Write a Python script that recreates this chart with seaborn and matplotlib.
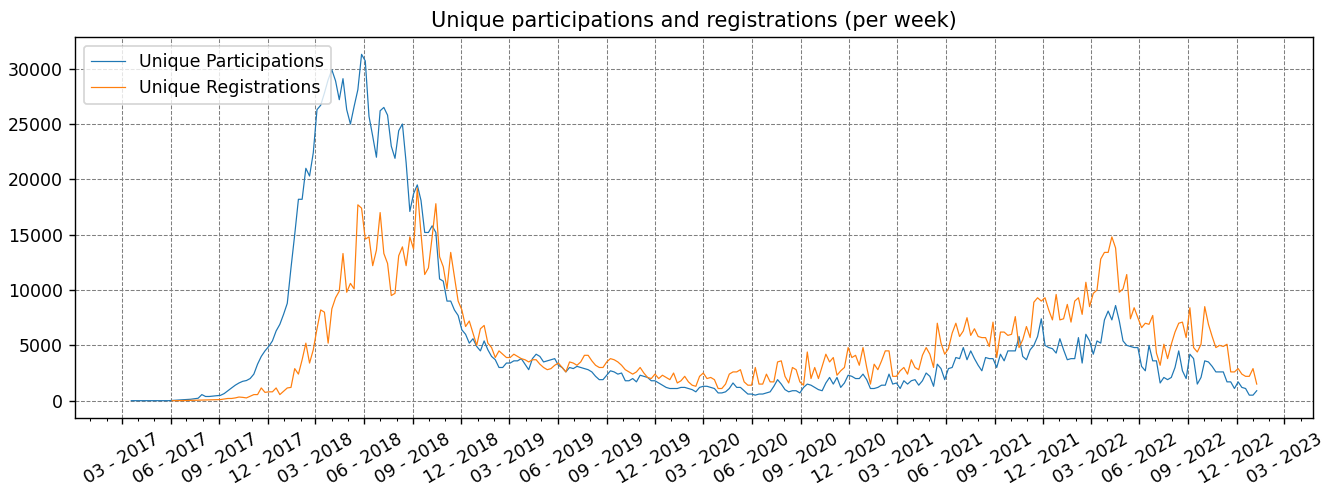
import numpy as np
import pandas as pd
import matplotlib
matplotlib.use('Agg')
import matplotlib.pyplot as plt
import matplotlib.dates as mdates
import seaborn as sns

nan = np.nan

# first week of the series, one value per week after that
start_date = '2017-03-19'

participations = [
    0, 0, 0, 0, 0, 0, 0, 0, 0, 0,
    0, 20, 50, 60, 80, 100, 130, 180, 220, 550,
    380, 380, 420, 450, 480, 640, 900, 1150, 1400, 1600,
    1750, 1820, 2000, 2400, 3300, 4000, 4500, 4900, 5400, 6300,
    6900, 7800, 8800, 12000, 15000, 18200, 18200, 21000, 20300, 22400,
    26300, 26700, 27800, 29000, 29900, 28900, 27200, 29100, 26300, 25000,
    26600, 28100, 31300, 30700, 25700, 23900, 22000, 26200, 26500, 25800,
    23000, 21900, 24400, 25000, 21500, 17100, 18700, 19500, 18100, 15200,
    15200, 15800, 15200, 11000, 10800, 9000, 9000, 8200, 7700, 6400,
    6000, 5200, 5600, 4900, 4500, 5400, 4600, 4000, 3700, 3000,
    3000, 3400, 3400, 3600, 3600, 3800, 3300, 2800, 3800, 4200,
    4000, 3500, 3600, 3700, 3800, 3200, 3000, 2600, 3000, 2900,
    3100, 3000, 2900, 2800, 2600, 2200, 1900, 1900, 2300, 2700,
    2600, 2400, 2500, 1800, 1800, 2000, 1700, 2300, 2200, 2100,
    1800, 1800, 1600, 1400, 1200, 1100, 1100, 1100, 1200, 1200,
    1100, 1000, 800, 1200, 1300, 1300, 1200, 1100, 700, 700,
    800, 1100, 1600, 1200, 1200, 900, 600, 600, 500, 600,
    600, 700, 800, 1300, 1900, 1500, 1000, 800, 900, 900,
    700, 1200, 1500, 1400, 1200, 1000, 900, 1600, 2100, 1500,
    2100, 1200, 1600, 2300, 2200, 2000, 2000, 2400, 1900, 1100,
    1100, 1200, 1400, 1400, 2400, 1500, 1600, 1100, 1800, 1500,
    1800, 1900, 1400, 1800, 2500, 2200, 1300, 3300, 2900, 1900,
    2900, 3000, 3900, 3800, 4800, 3700, 4500, 3800, 3200, 2700,
    3900, 3800, 3800, 3000, 4200, 3600, 4500, 4500, 4500, 5800,
    4000, 3700, 4600, 5000, 5800, 7400, 5000, 4800, 4700, 4300,
    5600, 4600, 3700, 3800, 3800, 5700, 3400, 6000, 5400, 4200,
    5400, 5200, 7300, 8100, 7300, 8600, 7200, 5400, 5000, 4900,
    4800, 4800, 3100, 2700, 5000, 3600, 3600, 1600, 2100, 1900,
    2100, 3000, 4500, 2700, 2000, 4200, 3800, 1500, 2100, 3600,
    3500, 3100, 2600, 2600, 2600, 1700, 1700, 1100, 1700, 1200,
    1100, 500, 500, 900,
]

registrations = [
    nan, nan, nan, nan, nan, nan, nan, nan, nan, nan,
    nan, 0, 0, 0, 10, 20, 20, 30, 40, 50,
    60, 70, 80, 90, 100, 150, 200, 200, 250, 330,
    300, 250, 400, 550, 550, 1150, 750, 800, 800, 1150,
    550, 850, 1150, 1200, 2900, 2400, 3700, 5200, 3400, 4600,
    6500, 8200, 8000, 5200, 8300, 9300, 9900, 13300, 9800, 10600,
    10100, 17700, 17400, 14600, 14800, 12200, 13600, 17000, 13300, 12400,
    9500, 9700, 13100, 13900, 12200, 14800, 13700, 19200, 15100, 11400,
    12000, 14800, 17800, 13000, 12100, 10100, 13400, 11200, 9000, 8200,
    6700, 7200, 6100, 5000, 6500, 6800, 5200, 4800, 3900, 4500,
    4200, 3900, 3900, 4200, 4000, 3800, 3700, 3500, 3700, 3700,
    3300, 3000, 2800, 2900, 3200, 3400, 3000, 2600, 3500, 3400,
    3200, 3500, 4100, 4100, 3600, 3200, 3000, 3000, 3500, 3800,
    3700, 3500, 3200, 2800, 2600, 2400, 2600, 3000, 2500, 2100,
    2000, 2400, 2000, 2300, 2100, 1900, 2500, 1600, 1800, 2200,
    1700, 1400, 1300, 2200, 2500, 2000, 2100, 1900, 1100, 1100,
    1500, 2400, 2600, 2600, 2800, 1700, 1400, 1400, 3000, 1500,
    1500, 2400, 1700, 1700, 3500, 3600, 2200, 1600, 3000, 2800,
    1700, 1400, 4400, 2000, 3000, 2000, 3100, 4200, 3500, 3900,
    2300, 2700, 3000, 4800, 3900, 4100, 3200, 4800, 3000, 1500,
    3300, 2800, 3600, 4500, 4500, 2200, 2200, 2700, 3000, 2400,
    3700, 3000, 2800, 4100, 4800, 4200, 3000, 7000, 5200, 4200,
    4700, 6100, 7000, 5800, 6300, 7500, 5900, 6500, 5800, 5700,
    5700, 4900, 7100, 3900, 6200, 6200, 5900, 6000, 7600, 4800,
    5500, 6700, 5700, 8900, 9300, 9000, 9300, 8200, 7300, 9600,
    7300, 7400, 8700, 7100, 9000, 9300, 7800, 10700, 8500, 9700,
    10000, 12800, 13400, 13400, 14800, 13800, 9800, 10100, 11400, 7400,
    8400, 7500, 6600, 7000, 6900, 7700, 4300, 3200, 5100, 3800,
    5100, 6200, 7000, 7100, 5700, 8400, 4800, 4400, 5100, 8500,
    6900, 5800, 4800, 5000, 4900, 5100, 2600, 2600, 2900, 2400,
    2200, 2200, 2900, 1500,
]

weeks = pd.date_range(start_date, periods=len(participations), freq='W')
df = pd.DataFrame({'Unique Participations': participations,
                   'Unique Registrations': registrations}, index=weeks)

fig = plt.figure(figsize=(1337 / 125, 485 / 125), dpi=125)
ax = fig.add_axes([75 / 1337, 1 - 418 / 485, (1313 - 75) / 1337, (418 - 37) / 485])

sns.lineplot(data=df, dashes=False, linewidth=0.7, ax=ax)
sns.move_legend(ax, 'upper left')

ax.xaxis.set_major_locator(mdates.MonthLocator(bymonth=[3, 6, 9, 12]))
ax.xaxis.set_minor_locator(mdates.MonthLocator())
ax.xaxis.set_major_formatter(mdates.DateFormatter('%m - %Y'))
plt.setp(ax.get_xticklabels(), rotation=30)

ax.grid(True, color='gray', linestyle='--', linewidth=0.6)
ax.set_xlabel('')
ax.set_ylabel('')
ax.set_title('Unique participations and registrations (per week)')

fig.savefig('out.png', dpi=125)
